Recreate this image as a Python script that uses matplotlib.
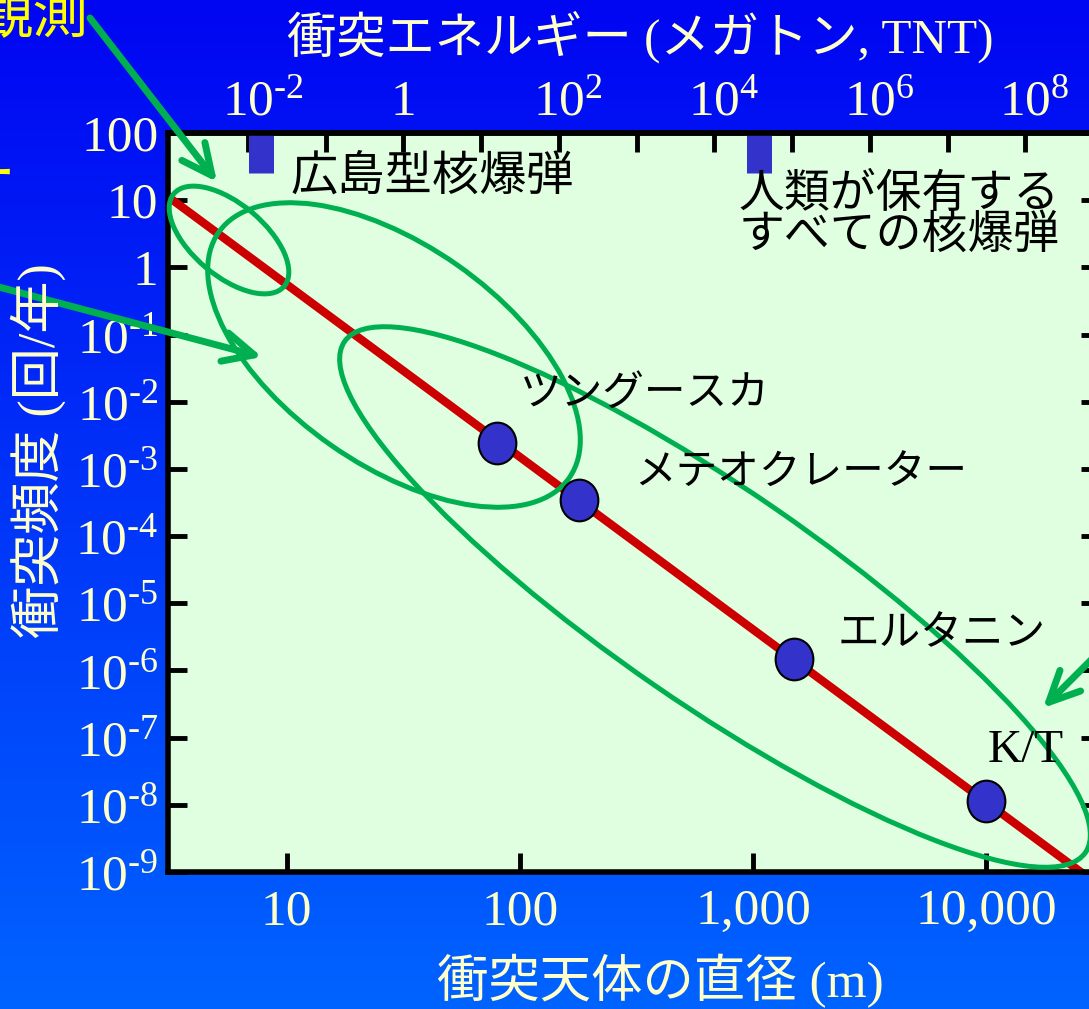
import numpy as np
import matplotlib
matplotlib.use("Agg")
import matplotlib.pyplot as plt
import matplotlib.transforms as mtransforms
from matplotlib.patches import Ellipse, FancyArrowPatch
from matplotlib.path import Path
from matplotlib.ticker import FixedLocator, NullLocator

plt.rcParams['font.family'] = ['Liberation Serif', 'Noto Sans CJK JP']
plt.rcParams['mathtext.fontset'] = 'custom'
plt.rcParams['mathtext.rm'] = 'Liberation Serif'
plt.rcParams['mathtext.it'] = 'Liberation Serif:italic'
plt.rcParams['mathtext.bf'] = 'Liberation Serif:bold'

# impactor diameter (m) vs impact frequency (per year)
trend_diam = [3.1, 26000]
trend_freq = [11.3, 9.4e-10]

event_names = ['ツングースカ', 'メテオクレーター', 'エルタニン', 'K/T']
event_diam = [80, 180, 1500, 10000]
event_freq = [2.4e-3, 3.5e-4, 1.5e-6, 1.15e-8]

# nuclear yields for comparison (megatons TNT)
bomb_names = ['広島型核爆弾', '人類が保有する\nすべての核爆弾']
bomb_energy = [0.015, 3.8e4]

diam_ticks = [10, 100, 1000, 10000]
diam_labels = ['10', '100', '1,000', '10,000']
freq_ticks = [1e2, 1e1, 1e0, 1e-1, 1e-2, 1e-3, 1e-4, 1e-5, 1e-6, 1e-7, 1e-8, 1e-9]
freq_labels = ['100', '10', '1'] + [r'$10^{\text{-}%d}$' % k for k in range(1, 10)]
energy_ticks = [10.0 ** k for k in range(-2, 9)]
energy_label_vals = [1e-2, 1e0, 1e2, 1e4, 1e6, 1e8]
energy_labels = [r'$10^{\text{-}2}$', '1', r'$10^{2}$', r'$10^{4}$', r'$10^{6}$', r'$10^{8}$']

# energy (Mt) of an impactor of diameter d (m)
ENERGY_COEF = 10 ** -4.5


def d2e(d):
    return ENERGY_COEF * np.asarray(d, dtype=float) ** 3


def e2d(e):
    return (np.asarray(e, dtype=float) / ENERGY_COEF) ** (1.0 / 3.0)


W, H = 1089, 1009
cream = '#FFFFCC'
green = '#00B050'


def fx(x):
    return x / W


def fy(y):
    return 1 - y / H


fig = plt.figure(figsize=(W / 100, H / 100), dpi=100)

# blue gradient backdrop
bg = fig.add_axes([0, 0, 1, 1])
top_c = np.array([0.0, 0.02, 0.95])
bot_c = np.array([0.0, 0.39, 1.0])
t = np.linspace(0, 1, 256)[:, None, None]
grad = top_c * (1 - t) + bot_c * t
bg.imshow(grad, aspect='auto', extent=[0, 1, 0, 1])
bg.axis('off')

ax = fig.add_axes([fx(168), fy(872), (1100 - 168) / W, (872 - 133) / H])
ax.set_facecolor('#E0FFE0')
ax.set_xscale('log')
ax.set_yscale('log')
ax.set_xlim(3.1, 30700)
ax.set_ylim(1e-9, 1e2)

for s in ax.spines.values():
    s.set_linewidth(4)
    s.set_color('black')

ax.xaxis.set_major_locator(FixedLocator(diam_ticks))
ax.xaxis.set_minor_locator(NullLocator())
ax.set_xticklabels(diam_labels)
ax.yaxis.set_major_locator(FixedLocator(freq_ticks))
ax.yaxis.set_minor_locator(NullLocator())
ax.set_yticklabels(freq_labels)
ax.tick_params(axis='both', which='major', direction='in', length=14, width=3.5,
               color='black', labelsize=37, labelcolor=cream)
ax.tick_params(axis='x', pad=12, top=False)
ax.tick_params(axis='y', pad=7, right=True)

# energy scale along the top
sec = ax.secondary_xaxis('top', functions=(d2e, e2d))
sec.xaxis.set_major_locator(FixedLocator(energy_ticks))
sec.xaxis.set_minor_locator(NullLocator())
sec.tick_params(direction='in', length=14, width=3.5, color='black', labeltop=False)
sec.spines['top'].set_linewidth(4)
for val, lab in zip(energy_label_vals, energy_labels):
    if lab.startswith('$'):
        ax.annotate(lab, xy=(e2d(val), 1), xycoords=('data', 'axes fraction'),
                    xytext=(-26, 18), textcoords='offset pixels',
                    ha='left', va='baseline', fontsize=37, color=cream,
                    annotation_clip=False)
    else:
        ax.annotate(lab, xy=(e2d(val), 1), xycoords=('data', 'axes fraction'),
                    xytext=(0, 18), textcoords='offset pixels',
                    ha='center', va='baseline', fontsize=37, color=cream,
                    annotation_clip=False)

# power-law trend and known impacts
ax.plot(trend_diam, trend_freq, color='#CC0000', lw=6, zorder=2)
oval = Path(Path.unit_circle().vertices * [0.905, 1.0], Path.unit_circle().codes)
ax.plot(event_diam, event_freq, ls='none', marker=oval, ms=30,
        mfc='#3333CC', mec='black', mew=1.5, zorder=6)

event_offsets = [(23, 49), (55, 25), (43, 24), (1, 50)]
for name, d, f, off in zip(event_names, event_diam, event_freq, event_offsets):
    size = 34 if name == 'K/T' else 30
    ax.annotate(name, xy=(d, f), xytext=off, textcoords='offset pixels',
                ha='left', va='center', fontsize=size, color='black', zorder=7)

# nuclear yield markers hanging from the top axis
blend = mtransforms.blended_transform_factory(ax.transData, ax.transAxes)
bomb_offsets = [(29, -45), (-21, -83)]
bomb_sizes = [34, 33]
for name, e, off, size in zip(bomb_names, bomb_energy, bomb_offsets, bomb_sizes):
    d = e2d(e)
    ax.plot([d, d], [1 - 40 / 739, 1.0], transform=blend, color='#3333CC',
            lw=18, solid_capstyle='butt', zorder=1.5)
    ax.annotate(name, xy=(d, 1), xycoords=('data', 'axes fraction'),
                xytext=off, textcoords='offset pixels', ha='left', va='center',
                fontsize=size, color='black', linespacing=0.92)

# hand-drawn callouts in pixel coordinates (y measured from the top)
px = mtransforms.Affine2D().scale(1, -1).translate(0, H)
callouts = [((229, 240), 72, 36, 40), ((394, 355), 214, 110, 35),
            ((715, 597), 450, 107, 34.6)]
for (cx, cy), a, b, ang in callouts:
    ax.add_patch(Ellipse((cx, cy), 2 * a, 2 * b, angle=ang, transform=px,
                         fill=False, ec=green, lw=3.6, clip_on=False, zorder=3))

arrows = [((90, 18), (217, 182)), ((-20, 282), (262, 357)), ((1110, 641), (1043, 708))]
for start, tip in arrows:
    ax.add_patch(FancyArrowPatch(start, tip, transform=px,
                                 arrowstyle='->,head_length=22,head_width=10.5',
                                 mutation_scale=1, shrinkA=0, shrinkB=0,
                                 color=green, lw=5, capstyle='round',
                                 joinstyle='round', clip_on=False, zorder=8))

# axis titles
fig.text(fx(640), fy(37), '衝突エネルギー (メガトン, TNT)', ha='center', va='center',
         fontsize=35.5, color=cream)
fig.text(fx(660), fy(981), '衝突天体の直径 (m)', ha='center', va='center',
         fontsize=37, color=cream)
fig.text(fx(38), fy(451), '衝突頻度 (回/年)', rotation=90, ha='center', va='center',
         fontsize=37.5, color=cream)

# captions running off the left edge
fig.text(fx(88), fy(33), '観測', ha='right', va='baseline', fontsize=40,
         color='#FFFF00', family='Noto Sans CJK JP')
fig.text(fx(15), fy(177), 'ー', ha='right', va='center', fontsize=40,
         color='#FFFF00', family='Noto Sans CJK JP')

fig.savefig('out.png', dpi=100)
